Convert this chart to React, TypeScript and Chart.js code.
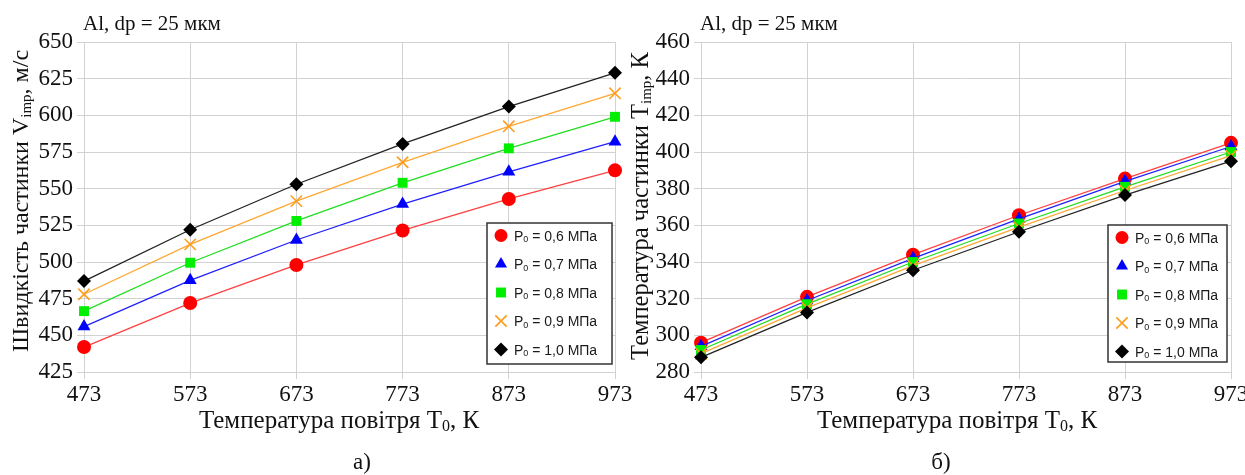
import React, { useEffect, useRef } from 'react';
import { Chart, registerables } from 'chart.js';

Chart.register(...registerables);

// ---- data ----
const temperatures = [473, 573, 673, 773, 873, 973];
const pressureLabels = ['0,6', '0,7', '0,8', '0,9', '1,0'];

const velocity06 = [442, 472, 498, 521.5, 543, 562.5];
const velocity07 = [456, 487.5, 515, 539.5, 561.5, 582];
const velocity08 = [466.5, 499.5, 528, 554, 577.5, 599];
const velocity09 = [478, 512, 541.5, 568, 592.5, 615];
const velocity10 = [487, 522, 553, 580.5, 606, 629];

const particleT06 = [296, 321, 344, 365.5, 385.5, 405];
const particleT07 = [294, 319, 342, 363.5, 384, 403];
const particleT08 = [292, 317, 340, 361, 381, 400];
const particleT09 = [290, 315, 338, 359, 379, 398];
const particleT10 = [288, 312.5, 335.5, 356.5, 376.5, 395];

const velocityTicks = { min: 425, max: 650, step: 25 };
const tempTicks = { min: 280, max: 460, step: 20 };

// ---- styles ----
const SERIF = '"Liberation Serif", "Times New Roman", serif';
const SANS = '"Liberation Sans", Arial, sans-serif';
const GRID = '#d2d2d2';

type Style = { point: string; line: string; shape: string; r: number; bw: number; lr: number };
const seriesStyles: Style[] = [
  { point: '#ff0000', line: '#ff4040', shape: 'circle', r: 7, bw: 0, lr: 6.5 },
  { point: '#0000ff', line: '#2020ff', shape: 'triangle', r: 7.5, bw: 0, lr: 7 },
  { point: '#00ee00', line: '#22dd22', shape: 'rect', r: 7, bw: 0, lr: 7 },
  { point: '#ff9c1a', line: '#ffa733', shape: 'crossRot', r: 8, bw: 1.6, lr: 8 },
  { point: '#000000', line: '#222222', shape: 'rectRot', r: 7, bw: 0, lr: 7 },
];

type Part = { t: string; sub?: boolean };

function partsWidth(ctx: CanvasRenderingContext2D, parts: Part[], size: number, family: string) {
  let w = 0;
  for (const p of parts) {
    ctx.font = `${p.sub ? Math.round(size * 0.62) : size}px ${family}`;
    w += ctx.measureText(p.t).width;
  }
  return w;
}

function drawParts(
  ctx: CanvasRenderingContext2D,
  parts: Part[],
  x: number,
  y: number,
  size: number,
  family: string,
  align: 'left' | 'center',
  color: string
) {
  const w = partsWidth(ctx, parts, size, family);
  let cx = align === 'center' ? x - w / 2 : x;
  ctx.textAlign = 'left';
  ctx.textBaseline = 'alphabetic';
  ctx.fillStyle = color;
  for (const p of parts) {
    ctx.font = `${p.sub ? Math.round(size * 0.62) : size}px ${family}`;
    ctx.fillText(p.t, cx, p.sub ? y + size * 0.12 : y);
    cx += ctx.measureText(p.t).width;
  }
}

function drawMarker(ctx: CanvasRenderingContext2D, s: Style, x: number, y: number, r: number) {
  ctx.save();
  ctx.fillStyle = s.point;
  ctx.strokeStyle = s.point;
  ctx.beginPath();
  if (s.shape === 'circle') {
    ctx.arc(x, y, r, 0, Math.PI * 2);
    ctx.fill();
  } else if (s.shape === 'triangle') {
    for (let i = 0; i < 3; i++) {
      const a = (i * 2 * Math.PI) / 3;
      const px = x + Math.sin(a) * r;
      const py = y - Math.cos(a) * r;
      if (i === 0) ctx.moveTo(px, py);
      else ctx.lineTo(px, py);
    }
    ctx.closePath();
    ctx.fill();
  } else if (s.shape === 'rect') {
    const h = r * Math.SQRT1_2;
    ctx.rect(x - h, y - h, 2 * h, 2 * h);
    ctx.fill();
  } else if (s.shape === 'rectRot') {
    ctx.moveTo(x, y - r);
    ctx.lineTo(x + r, y);
    ctx.lineTo(x, y + r);
    ctx.lineTo(x - r, y);
    ctx.closePath();
    ctx.fill();
  } else if (s.shape === 'crossRot') {
    const h = r * Math.SQRT1_2;
    ctx.lineWidth = s.bw;
    ctx.moveTo(x - h, y - h);
    ctx.lineTo(x + h, y + h);
    ctx.moveTo(x - h, y + h);
    ctx.lineTo(x + h, y - h);
    ctx.stroke();
  }
  ctx.restore();
}

type ChartCfg = {
  series: number[][];
  ticks: { min: number; max: number; step: number };
  yAxisWidth: number;
  padRight: number;
  title: string;
  yTitle: Part[];
  yTitleX: number;
  yTitleY: number;
  yTitleSize: number;
  xTitleX: number;
  caption: string;
  captionX: number;
  legendBox: { x: number; y: number; w: number; h: number };
};

function makeChart(canvas: HTMLCanvasElement, cfg: ChartCfg) {
  const datasets = cfg.series.map((vals, i) => {
    const s = seriesStyles[i];
    return {
      label: 'P0 = ' + pressureLabels[i] + ' МПа',
      data: temperatures.map((t, j) => ({ x: t, y: vals[j] })),
      borderColor: s.line,
      borderWidth: 1.3,
      backgroundColor: s.point,
      pointBackgroundColor: s.point,
      pointBorderColor: s.point,
      pointBorderWidth: s.bw,
      pointStyle: s.shape,
      pointRadius: s.r,
      tension: 0,
      clip: false,
      order: 10 - i,
    };
  });

  const textPlugin = {
    id: 'texts',
    afterDraw(chart: any) {
      const ctx: CanvasRenderingContext2D = chart.ctx;
      const area = chart.chartArea;
      ctx.save();
      // title
      drawParts(ctx, [{ t: cfg.title }], area.left - 1, 30, 21, SERIF, 'left', '#111');
      // x title
      drawParts(
        ctx,
        [{ t: 'Температура повітря T' }, { t: '0', sub: true }, { t: ', К' }],
        cfg.xTitleX,
        428,
        25,
        SERIF,
        'center',
        '#111'
      );
      // caption
      drawParts(ctx, [{ t: cfg.caption }], cfg.captionX, 469, 23, SERIF, 'center', '#111');
      // y title
      ctx.save();
      ctx.translate(cfg.yTitleX, cfg.yTitleY);
      ctx.rotate(-Math.PI / 2);
      drawParts(ctx, cfg.yTitle, 0, 0, cfg.yTitleSize, SERIF, 'center', '#111');
      ctx.restore();
      // legend
      const b = cfg.legendBox;
      ctx.fillStyle = '#ffffff';
      ctx.fillRect(b.x, b.y, b.w, b.h);
      ctx.strokeStyle = '#333333';
      ctx.lineWidth = 1.5;
      ctx.strokeRect(b.x, b.y, b.w, b.h);
      pressureLabels.forEach((p, i) => {
        const cy = b.y + 12.5 + i * 28.5;
        drawMarker(ctx, seriesStyles[i], b.x + 14, cy, seriesStyles[i].lr);
        drawParts(
          ctx,
          [{ t: 'P' }, { t: '0', sub: true }, { t: ' = ' + p + ' МПа' }],
          b.x + 27,
          cy + 5,
          14,
          SANS,
          'left',
          '#1a1a1a'
        );
      });
      ctx.restore();
    },
  };

  return new Chart(canvas, {
    type: 'line',
    data: { datasets },
    options: {
      animation: false,
      responsive: false,
      devicePixelRatio: 1,
      layout: { padding: { left: 0, right: cfg.padRight, top: 42, bottom: 0 } },
      plugins: { legend: { display: false }, tooltip: { enabled: false }, title: { display: false } },
      scales: {
        x: {
          type: 'linear',
          min: 473,
          max: 973,
          grid: { color: GRID, lineWidth: 1, tickLength: 7, tickColor: GRID },
          border: { color: GRID, width: 1 },
          ticks: {
            stepSize: 100,
            padding: 2,
            color: '#111',
            font: { family: SERIF, size: 23 },
            maxRotation: 0,
            autoSkip: false,
          },
          afterFit(scale: any) {
            scale.height = 475 - 372;
            scale.paddingLeft = 0;
            scale.paddingRight = 0;
          },
        },
        y: {
          type: 'linear',
          min: cfg.ticks.min,
          max: cfg.ticks.max,
          grid: { color: GRID, lineWidth: 1, tickLength: 7, tickColor: GRID },
          border: { color: GRID, width: 1 },
          ticks: {
            stepSize: cfg.ticks.step,
            padding: 4,
            color: '#111',
            font: { family: SERIF, size: 23 },
          },
          afterFit(scale: any) {
            scale.width = cfg.yAxisWidth;
            scale.paddingTop = 0;
            scale.paddingBottom = 0;
          },
        },
      },
    },
    plugins: [textPlugin],
  } as any);
}

export default function App() {
  const leftRef = useRef<HTMLCanvasElement>(null);
  const rightRef = useRef<HTMLCanvasElement>(null);

  useEffect(() => {
    const c1 = makeChart(leftRef.current!, {
      series: [velocity06, velocity07, velocity08, velocity09, velocity10],
      ticks: velocityTicks,
      yAxisWidth: 84,
      padRight: 640 - 615,
      title: 'Al, dp = 25 мкм',
      yTitle: [{ t: 'Швидкість частинки V' }, { t: 'imp', sub: true }, { t: ', м/с' }],
      yTitleX: 28,
      yTitleY: 201,
      yTitleSize: 24,
      xTitleX: 339,
      caption: 'а)',
      captionX: 362,
      legendBox: { x: 487, y: 223, w: 125, h: 141 },
    });
    const c2 = makeChart(rightRef.current!, {
      series: [particleT06, particleT07, particleT08, particleT09, particleT10],
      ticks: tempTicks,
      yAxisWidth: 701 - 625,
      padRight: 1245 - 1231,
      title: 'Al, dp = 25 мкм',
      yTitle: [{ t: 'Температура частинки T' }, { t: 'imp', sub: true }, { t: ', К' }],
      yTitleX: 648 - 625,
      yTitleY: 206,
      yTitleSize: 24.5,
      xTitleX: 957 - 625,
      caption: 'б)',
      captionX: 941 - 625,
      legendBox: { x: 1108 - 625, y: 225, w: 119, h: 137 },
    });
    return () => {
      c1.destroy();
      c2.destroy();
    };
  }, []);

  return (
    <div
      style={{
        position: 'absolute',
        left: 0,
        top: 0,
        width: 1245,
        height: 475,
        background: '#ffffff',
        overflow: 'hidden',
      }}
    >
      <canvas
        ref={leftRef}
        width={640}
        height={475}
        style={{ position: 'absolute', left: 0, top: 0, width: 640, height: 475 }}
      />
      <canvas
        ref={rightRef}
        width={620}
        height={475}
        style={{ position: 'absolute', left: 625, top: 0, width: 620, height: 475 }}
      />
    </div>
  );
}
